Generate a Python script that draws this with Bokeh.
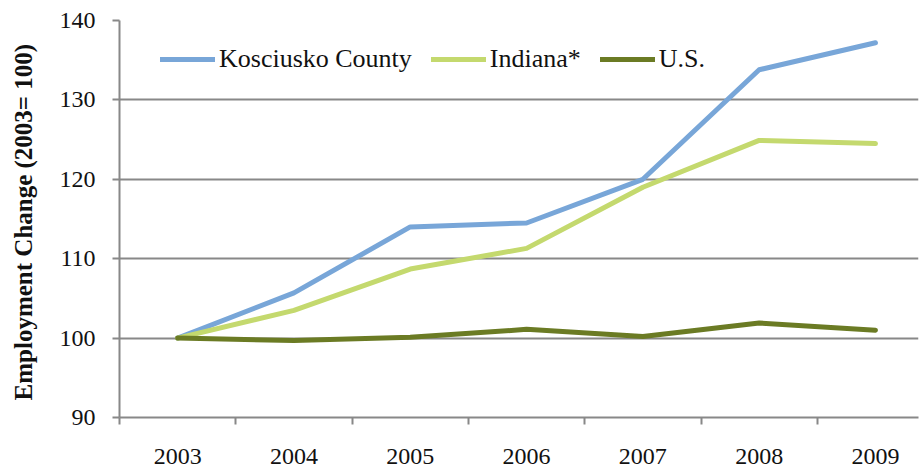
from bokeh.plotting import figure
from bokeh.models import Range1d, FixedTicker, Legend, LegendItem
from bokeh.embed import file_html
from bokeh.resources import INLINE

years = ["2003", "2004", "2005", "2006", "2007", "2008", "2009"]
kosciusko = [100.0, 105.7, 114.0, 114.5, 120.0, 133.8, 137.2]
indiana = [100.0, 103.5, 108.7, 111.3, 119.0, 124.9, 124.5]
us = [100.0, 99.7, 100.1, 101.1, 100.2, 101.9, 101.0]
y_ticks = [90, 100, 110, 120, 130, 140]

series_names = ["Kosciusko County", "Indiana*", "U.S."]
series_colors = ["#78A6D8", "#C4D96E", "#6B7B24"]

FONT = "Liberation Serif"
GRID = "#888888"

xpos = [i + 0.5 for i in range(len(years))]

p = figure(width=920, height=468, output_backend="svg", toolbar_location=None,
           x_range=Range1d(0, 6.87), y_range=Range1d(90, 140),
           min_border_left=119, min_border_right=2, min_border_top=20, min_border_bottom=51)
p.outline_line_color = None
p.background_fill_color = "white"

renderers = []
for vals, col in zip([kosciusko, indiana, us], series_colors):
    r = p.line(xpos, vals, line_color=col, line_width=5, line_join="round", line_cap="round")
    renderers.append(r)

# x axis
xa = p.xaxis[0]
xa.ticker = FixedTicker(ticks=xpos, minor_ticks=list(range(len(years) + 1)))
xa.major_label_overrides = {x: y for x, y in zip(xpos, years)}
xa.major_tick_out = 0
xa.major_tick_in = 0
xa.minor_tick_out = 7
xa.minor_tick_in = 0
xa.minor_tick_line_color = GRID
xa.minor_tick_line_width = 2
xa.axis_line_color = GRID
xa.axis_line_width = 2
xa.major_label_standoff = 24
xa.major_label_text_font = FONT
xa.major_label_text_font_size = "24px"
xa.major_label_text_color = "#111111"

# y axis
ya = p.yaxis[0]
ya.ticker = FixedTicker(ticks=y_ticks)
ya.minor_tick_line_color = None
ya.major_tick_out = 7
ya.major_tick_in = 0
ya.major_tick_line_color = GRID
ya.major_tick_line_width = 2
ya.axis_line_color = GRID
ya.axis_line_width = 2
ya.major_label_standoff = 17
ya.major_label_text_font = FONT
ya.major_label_text_font_size = "24px"
ya.major_label_text_color = "#111111"
ya.axis_label = "Employment Change  (2003= 100)"
ya.axis_label_text_font = FONT
ya.axis_label_text_font_size = "25px"
ya.axis_label_text_font_style = "bold"
ya.axis_label_text_color = "#111111"
ya.axis_label_standoff = 20

p.xgrid.grid_line_color = None
p.ygrid.ticker = FixedTicker(ticks=y_ticks)
p.ygrid.grid_line_color = GRID
p.ygrid.grid_line_width = 2

legend = Legend(items=[LegendItem(label=n, renderers=[r]) for n, r in zip(series_names, renderers)],
                orientation="horizontal", location=(41, 343),
                label_text_font=FONT, label_text_font_size="26px", label_text_color="#111111",
                glyph_width=55, glyph_height=28, label_standoff=4, spacing=19,
                padding=0, margin=0, border_line_color=None, background_fill_alpha=0)
p.add_layout(legend)

open("out.html", "w").write(file_html(p, INLINE))
